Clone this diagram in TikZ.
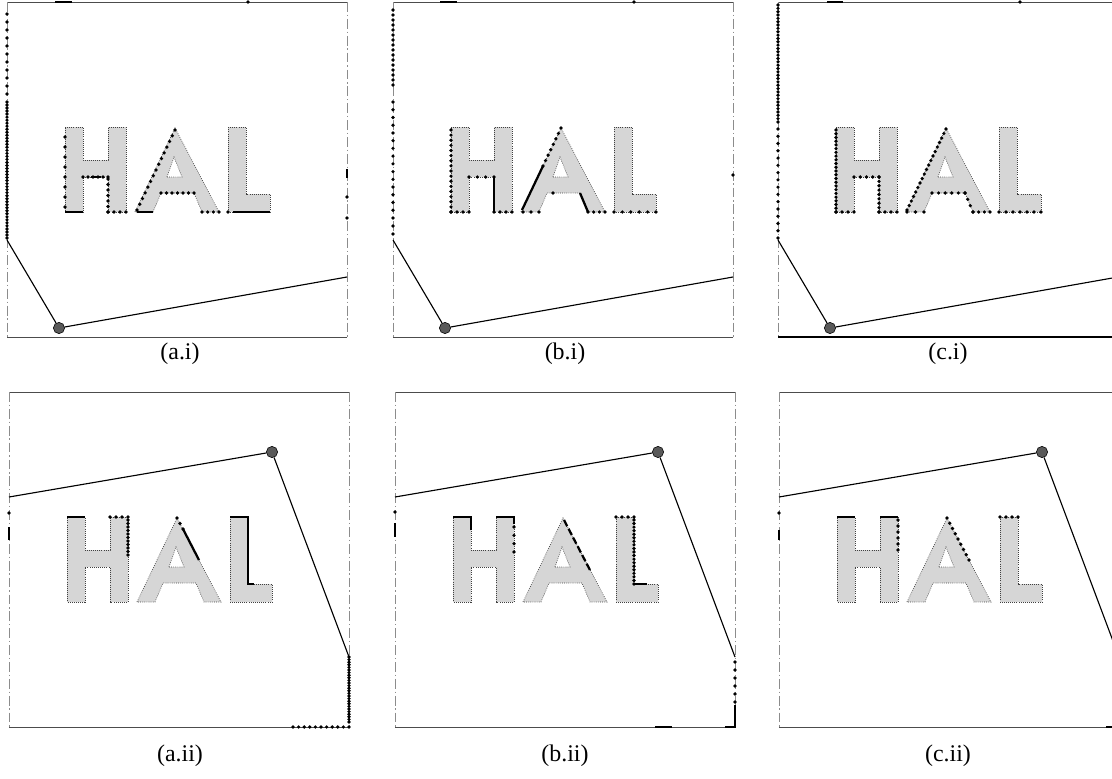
\documentclass[tikz,border=0pt]{standalone}
\usepackage{fontspec}
\setmainfont{Liberation Serif}
\usepackage{tikz}
\usetikzlibrary{positioning}
\definecolor{letterfill}{gray}{0.84}
\definecolor{wallcol}{gray}{0.55}
\tikzset{
  wall/.style={draw=wallcol, line width=0.4pt, dash pattern=on 7pt off 2pt on 1pt off 2pt},
  floorline/.style={draw=black!70, line width=0.5pt},
  letter/.style={fill=letterfill, draw=black!75, line width=0.5pt, densely dotted, even odd rule},
  ray/.style={draw=black, line width=0.8pt},
  eye/.style={circle, fill=black!65, draw=black, inner sep=0pt, minimum size=8pt},
  seen/.style={draw=black, line width=1.6pt},
  caption/.style={font=\fontsize{17}{20}\selectfont}
}
\newcommand{\samples}[5]{% #1,#2 start, #3,#4 end, #5 gaps
  \foreach \k in {0,...,#5}
    \fill ({#1+(#3-#1)*\k/#5},{#2+(#4-#2)*\k/#5}) circle (1.3pt);
}
\newcommand{\roomframe}{%
  \draw[floorline] (0,0) -- (340,0);
  \draw[floorline] (0,335) -- (340,335);
  \draw[wall] (0,0) -- (0,335);
  \draw[wall] (340,0) -- (340,335);
}
\newcommand{\hal}{%
  \path[letter] (58,125) -- (76,125) -- (76,158) -- (101,158) -- (101,125) -- (119,125)
    -- (119,210) -- (101,210) -- (101,175) -- (76,175) -- (76,210) -- (58,210) -- cycle;
  \path[letter] (128,210) -- (168,126) -- (212,210) -- (195,210) -- (187,191) -- (154,191)
    -- (146,210) -- cycle (160,175) -- (167,155) -- (175,175) -- cycle;
  \path[letter] (221,125) -- (239,125) -- (239,192) -- (263,192) -- (263,210) -- (221,210) -- cycle;
}
\newcommand{\topview}[1]{% eye low left, #1 panel name
  \coordinate (#1-l) at (0,238);
  \coordinate (#1-r) at (340,275);
  \node[eye] (#1-eye) at (52,326) {};
  \draw[ray] (#1-l) -- (#1-eye) -- (#1-r);
}
\newcommand{\bottomview}[1]{% eye high right, #1 panel name
  \coordinate (#1-l) at (0,105);
  \coordinate (#1-r) at (340,265);
  \node[eye] (#1-eye) at (263,60) {};
  \draw[ray] (#1-l) -- (#1-eye) -- (#1-r);
}

\begin{document}
\begin{tikzpicture}[x=0.025cm, y=-0.025cm]
  \useasboundingbox (0,0) rectangle (1112,778);
  \clip (0,0) rectangle (1112,778);

  % (a.i)
  \begin{scope}[shift={(7,2)}]
    \roomframe
    \hal
    \topview{ai}
    \samples{0}{12}{0}{100}{11}
    \samples{0}{103}{0}{236}{44}
    \draw[seen] (48,0) -- (65,0);
    \fill (241,0) circle (1.3pt);
    \draw[seen] (340,167) -- (340,176);
    \fill (340,195) circle (1.3pt);
    \fill (340,216) circle (1.3pt);
    \samples{58}{135}{58}{205}{7}
    \draw[seen] (58,210) -- (76,210);
    \samples{76}{175}{101}{175}{5}
    \draw[seen] (84,175) -- (94,175);
    \samples{101}{177}{101}{210}{6}
    \samples{101}{210}{119}{210}{3}
    \samples{168}{128}{130}{208}{14}
    \draw[seen] (130,210) -- (146,210);
    \samples{154}{191}{187}{191}{6}
    \samples{195}{210}{212}{210}{3}
    \fill (221,210) circle (1.3pt);
    \draw[seen, line width=1pt] (226,210) -- (263,210);
  \end{scope}

  % (b.i)
  \begin{scope}[shift={(393,2)}]
    \roomframe
    \hal
    \topview{bi}
    \samples{0}{8}{0}{83}{15}
    \samples{0}{100}{0}{216}{15}
    \samples{0}{224}{0}{232}{1}
    \draw[seen] (47,0) -- (64,0);
    \fill (241,0) circle (1.3pt);
    \fill (340,173) circle (1.3pt);
    \samples{58}{128}{58}{210}{16}
    \samples{58}{210}{76}{210}{3}
    \samples{76}{175}{101}{175}{3}
    \draw[seen] (101,175) -- (101,210);
    \samples{101}{210}{119}{210}{3}
    \samples{168}{126}{150}{164}{7}
    \draw[seen] (150,164) -- (129,208);
    \samples{130}{210}{146}{210}{2}
    \fill (160,191) circle (1.3pt);
    \draw[seen] (187,191) -- (195,210);
    \samples{195}{210}{212}{210}{3}
    \samples{221}{210}{263}{210}{5}
  \end{scope}

  % (c.i)
  \begin{scope}[shift={(778,2)}]
    \roomframe
    \hal
    \topview{ci}
    \draw[black, line width=0.8pt] (0,335) -- (340,335);
    \samples{0}{3}{0}{120}{35}
    \samples{0}{127}{0}{236}{15}
    \draw[seen] (49,0) -- (65,0);
    \fill (242,0) circle (1.3pt);
    \samples{58}{128}{58}{210}{22}
    \samples{58}{210}{76}{210}{3}
    \samples{76}{175}{101}{175}{4}
    \samples{101}{175}{101}{210}{8}
    \samples{101}{210}{119}{210}{3}
    \samples{168}{127}{129}{208}{18}
    \samples{129}{210}{146}{210}{2}
    \samples{154}{191}{187}{191}{5}
    \samples{187}{191}{195}{210}{3}
    \samples{195}{210}{212}{210}{3}
    \samples{221}{210}{263}{210}{6}
  \end{scope}

  % (a.ii)
  \begin{scope}[shift={(9,392)}]
    \roomframe
    \hal
    \bottomview{aii}
    \samples{340}{265}{340}{330}{25}
    \samples{284}{335}{340}{335}{10}
    \draw[seen] (0,135) -- (0,148);
    \fill (0,121) circle (1.3pt);
    \draw[seen] (58,125) -- (76,125);
    \samples{101}{125}{119}{125}{3}
    \samples{119}{128}{119}{163}{10}
    \samples{168}{126}{174}{137}{2}
    \draw[seen] (174,137) -- (190,168);
    \draw[seen] (221,125) -- (239,125) -- (239,192) -- (245,192);
  \end{scope}

  % (b.ii)
  \begin{scope}[shift={(395,392)}]
    \roomframe
    \hal
    \bottomview{bii}
    \samples{340}{270}{340}{310}{5}
    \draw[seen] (340,313) -- (340,335) -- (330,335);
    \draw[seen] (260,335) -- (277,335);
    \draw[seen] (0,131) -- (0,145);
    \fill (0,120) circle (1.3pt);
    \draw[seen] (58,125) -- (76,125) -- (76,138);
    \draw[seen] (101,125) -- (119,125) -- (119,132);
    \samples{119}{135}{119}{160}{3}
    \draw[seen, dash pattern=on 5pt off 2pt] (169,128) -- (196,180);
    \samples{221}{125}{239}{125}{3}
    \samples{239}{128}{239}{192}{18}
    \draw[seen] (239,192) -- (252,192);
  \end{scope}

  % (c.ii)
  \begin{scope}[shift={(779,392)}]
    \roomframe
    \hal
    \bottomview{cii}
    \draw[seen] (327,335) -- (335,335);
    \draw[seen] (0,138) -- (0,148);
    \fill (0,121) circle (1.3pt);
    \draw[seen] (58,125) -- (76,125);
    \draw[seen] (101,125) -- (119,125);
    \samples{119}{128}{119}{158}{5}
    \samples{168}{126}{190}{168}{8}
    \samples{221}{125}{239}{125}{3}
  \end{scope}

  \node[caption] (cap-ai) at (180,354) {(a.i)};
  \node[caption] (cap-bi) at (565,354) {(b.i)};
  \node[caption] (cap-ci) at (948,354) {(c.i)};
  \node[caption] (cap-aii) at (180,756) {(a.ii)};
  \node[caption] (cap-bii) at (565,756) {(b.ii)};
  \node[caption] (cap-cii) at (948,756) {(c.ii)};
\end{tikzpicture}
\end{document}
